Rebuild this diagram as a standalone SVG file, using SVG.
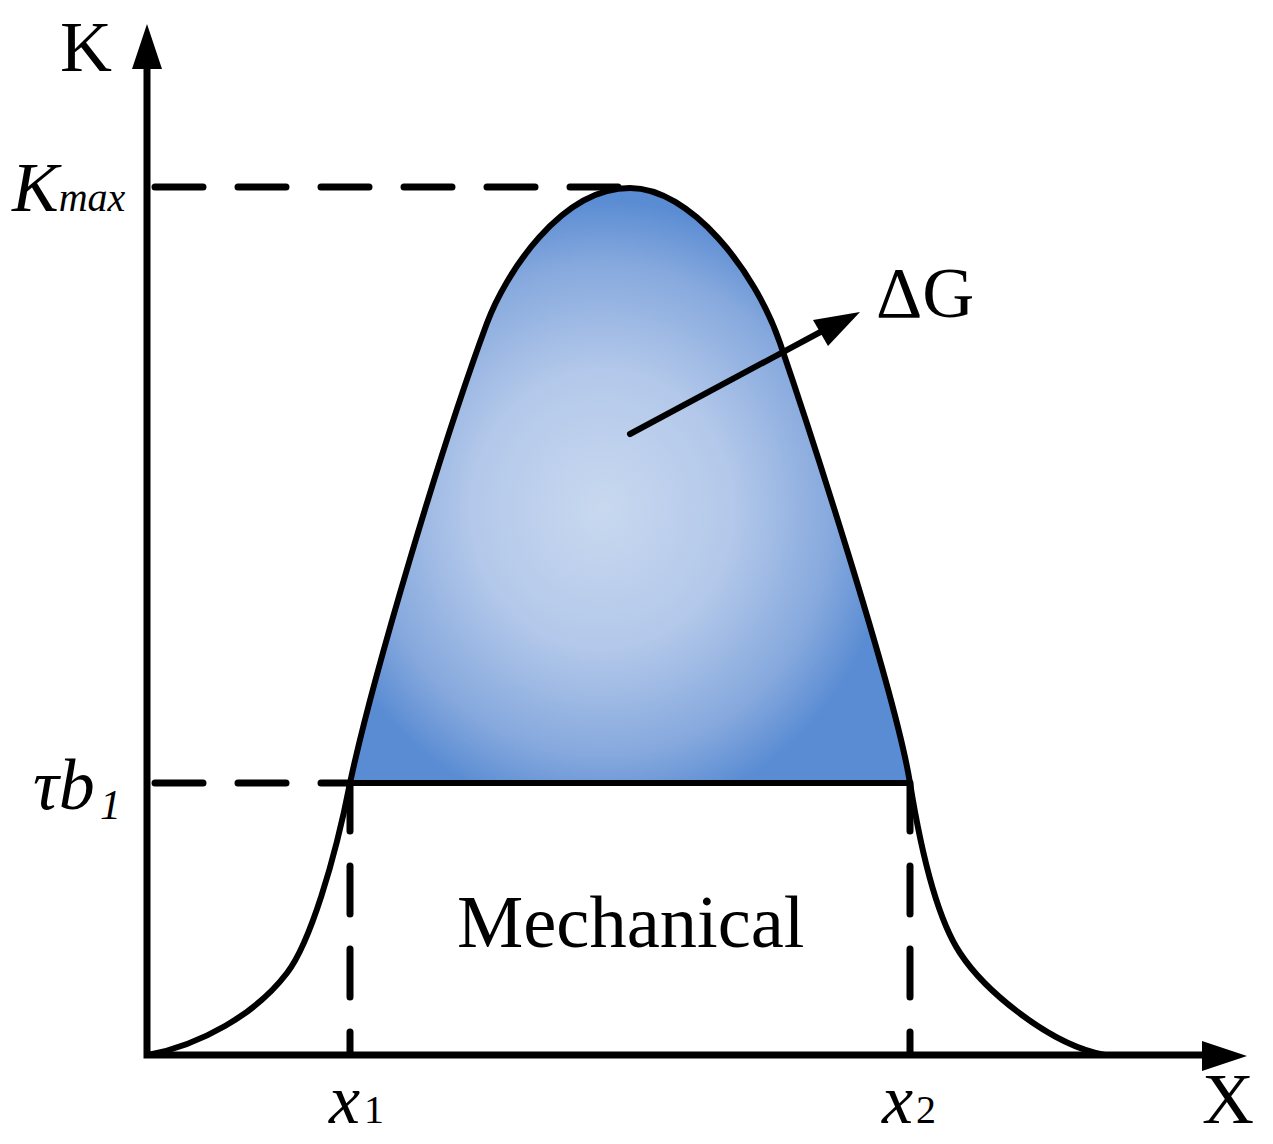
<svg xmlns="http://www.w3.org/2000/svg" width="1273" height="1144" viewBox="0 0 1273 1144">
<style>
.serif{font-family:"Liberation Serif","Times New Roman",serif;fill:#000}
.it{font-style:italic}
.ax{stroke:#000;stroke-width:7;fill:none;stroke-linecap:round}
.dash{stroke:#000;stroke-width:7;fill:none;stroke-dasharray:48 35;stroke-linecap:round}
.crv{stroke:#000;stroke-width:6;fill:none;stroke-linejoin:round}
</style>
<defs>
<radialGradient id="g" cx="0.45" cy="0.54" r="0.52" gradientUnits="objectBoundingBox">
<stop offset="0" stop-color="#c8d8ef"/>
<stop offset="0.45" stop-color="#b3c8ea"/>
<stop offset="0.8" stop-color="#85a8dd"/>
<stop offset="1" stop-color="#5a8cd3"/>
</radialGradient>
</defs>
<g id="area">
<path fill="url(#g)" d="M350,783 C372,680 440,450 487,323 C505,275 560,188 630,188 C690,188 755,270 780,343 C805,416 895,690 910,783 Z"/>
</g>
<g id="connectors">
<line class="dash" x1="155" y1="187" x2="628" y2="187"/>
<line class="dash" x1="155" y1="783" x2="350" y2="783"/>
<line class="dash" x1="350" y1="783" x2="350" y2="1052"/>
<line class="dash" x1="910" y1="783" x2="910" y2="1052"/>
<line stroke="#000" stroke-width="6" x1="350" y1="783" x2="910" y2="783"/>
<path class="crv" d="M148,1055 C200,1045 255,1015 287,973 C310,943 335,860 350,783 C372,680 440,450 487,323 C505,275 560,188 630,188 C690,188 755,270 780,343 C805,416 895,690 910,783 C920,845 935,915 960,953 C985,991 1050,1045 1105,1055"/>
<polyline class="ax" points="147,66 147,1055 1205,1055"/>
<path d="M147,24 L162,69 L132,69 Z" fill="#000"/>
<path d="M1247,1056 L1202,1041 L1202,1071 Z" fill="#000"/>
<line stroke="#000" stroke-width="6" stroke-linecap="round" x1="630" y1="434" x2="826" y2="329"/>
<path d="M860,312 L813,320 L828,346 Z" fill="#000"/>
</g>
<g id="labels">
<text class="serif" x="60" y="71" font-size="72">K</text>
<text class="serif it" x="12" y="211" font-size="70">K<tspan font-size="40">max</tspan></text>
<text class="serif it" x="33" y="809" font-size="72">τb</text>
<text class="serif it" x="100" y="819" font-size="42">1</text>
<text class="serif it" x="329" y="1123" font-size="70">x</text>
<text class="serif" x="364" y="1123" font-size="40">1</text>
<text class="serif it" x="882" y="1123" font-size="70">x</text>
<text class="serif" x="916" y="1123" font-size="40">2</text>
<text class="serif" x="1202" y="1123" font-size="72">X</text>
<text class="serif" x="876" y="317" font-size="72">ΔG</text>
<text class="serif" x="457" y="947" font-size="74.5">Mechanical</text>
</g>
</svg>
